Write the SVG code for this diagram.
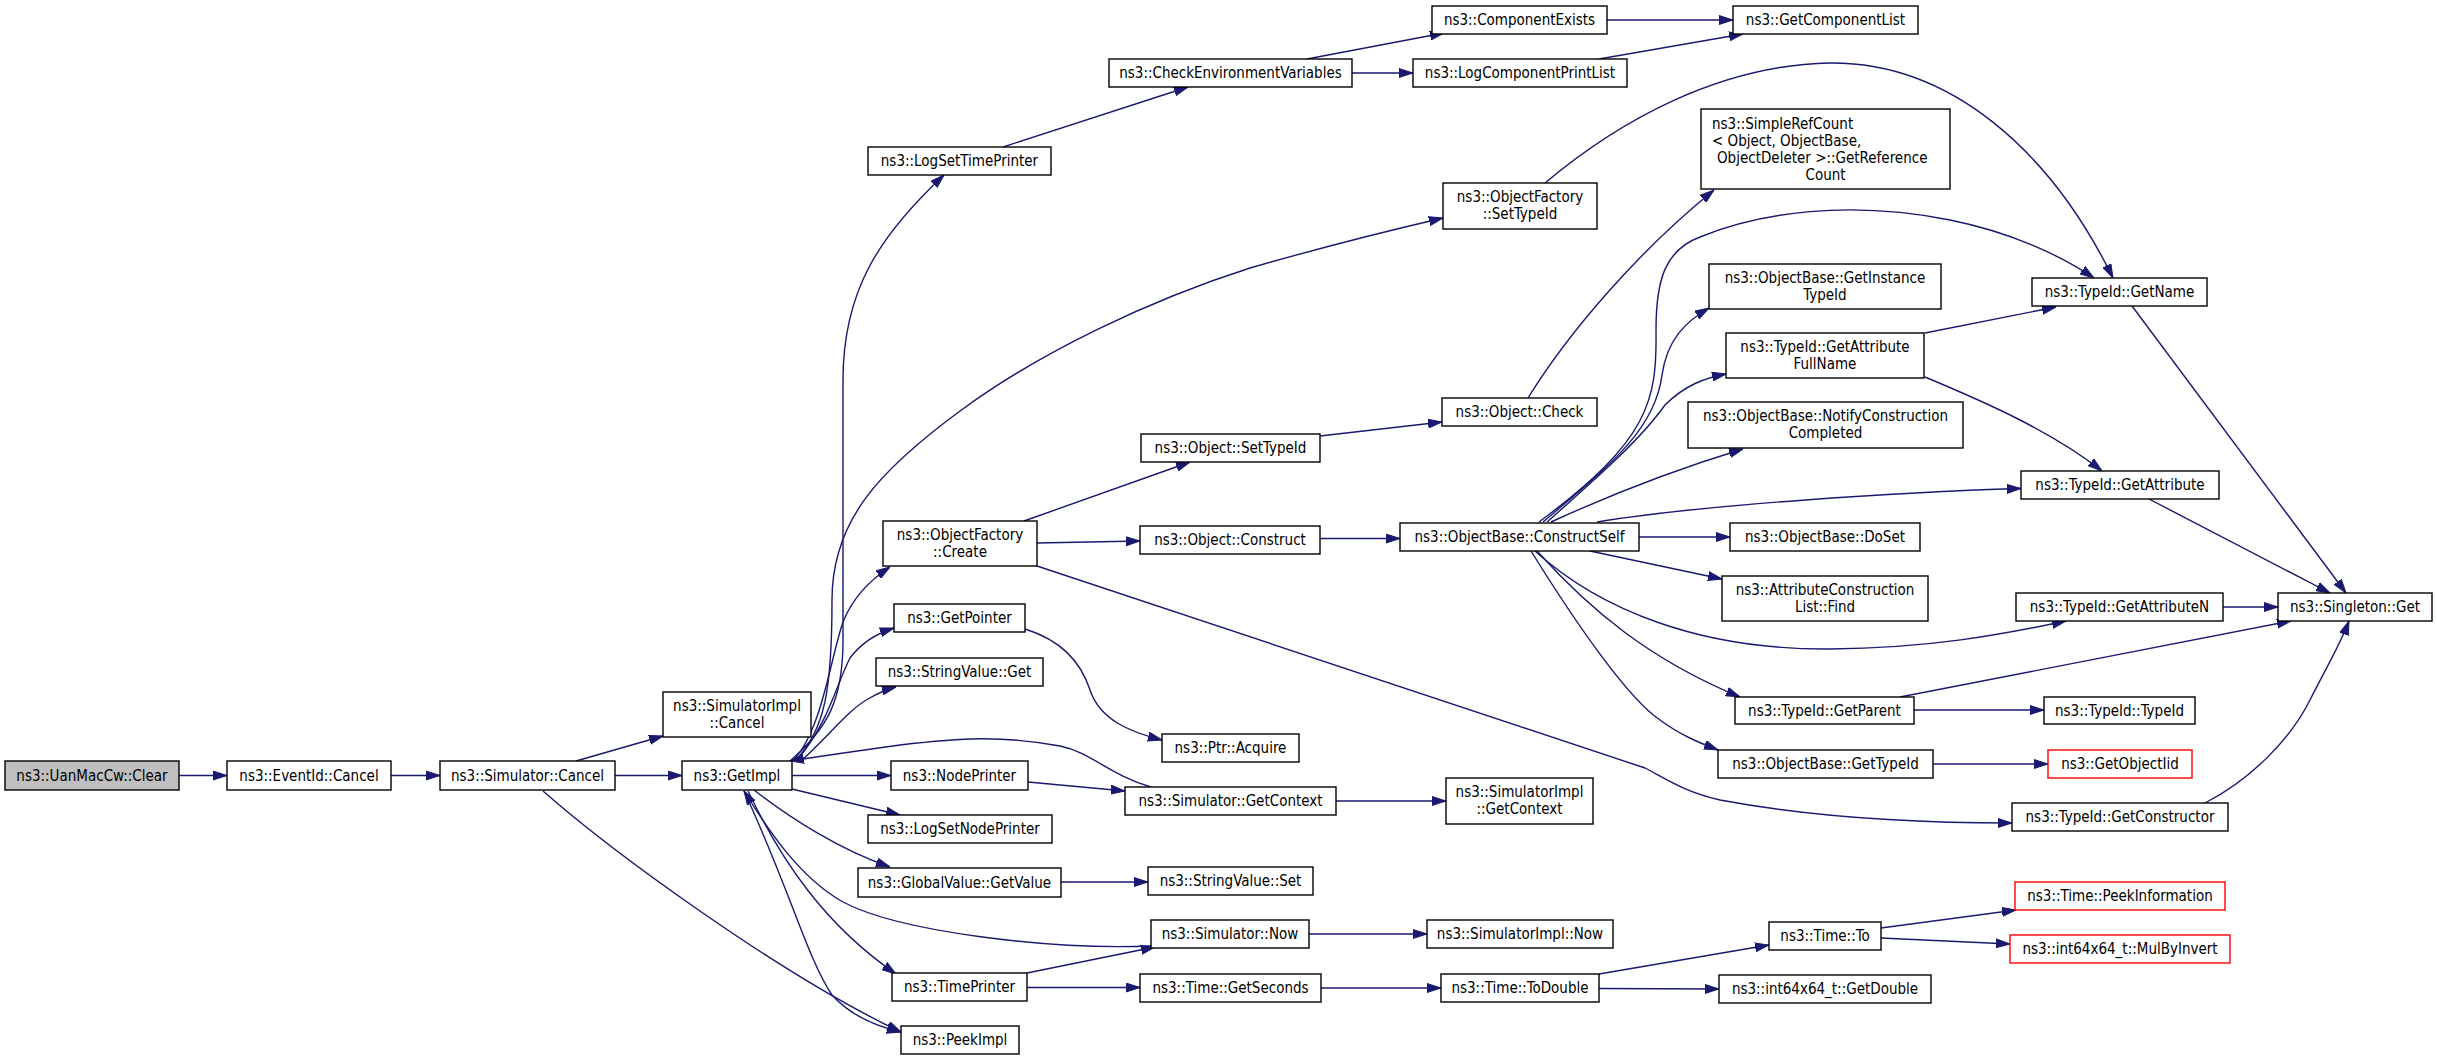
<svg xmlns="http://www.w3.org/2000/svg" width="2437" height="1060" viewBox="0 0 2437 1060">
<style>
.n rect{fill:#fff;stroke:#000;stroke-width:1.4}
.n.g rect{fill:#bfbfbf}
.n.r rect{stroke:#ff0000}
text{font-family:"DejaVu Sans Condensed","DejaVu Sans",sans-serif;font-stretch:condensed;font-size:15px;fill:#000;text-anchor:middle}
text.l{text-anchor:start}
#edges path{fill:none;stroke:#191970;stroke-width:1.4;marker-end:url(#a)}
</style>
<defs>
<marker id="a" markerWidth="14" markerHeight="10" refX="14" refY="5" orient="auto" markerUnits="userSpaceOnUse">
<path d="M0,0.5 L14,5 L0,9.5 z" fill="#191970" stroke="#191970" stroke-width="1"/>
</marker>
</defs>
<rect width="2437" height="1060" fill="#fff"/>
<g id="edges">
<path d="M179,775.5 L227,775.5"/>
<path d="M391,775.5 L440,775.5"/>
<path d="M576,761 L663,736"/>
<path d="M615,775.5 L682,775.5"/>
<path d="M543,791 C610,850 780,975 901,1032"/>
<path d="M790,761 C828,728 843,700 843,640 L843,380 C843,290 880,235 944,175"/>
<path d="M795,761 C825,730 832,690 832,600 C832,520 880,470 960,411 C1040,352 1150,300 1250,268 C1330,245 1400,228 1443,218"/>
<path d="M793,761 C822,730 830,660 843,622 C853,597 870,580 890,567"/>
<path d="M796,761 C828,725 836,685 850,658 C862,642 878,633 894,628"/>
<path d="M800,762 C830,735 848,710 868,699 C880,692 888,689 896,687"/>
<path d="M792,775.5 L891,775.5"/>
<path d="M792,789 L900,815"/>
<path d="M754,790 C790,818 840,850 890,867"/>
<path d="M748,791 C782,862 825,925 896,974"/>
<path d="M744,791 C790,890 808,960 832,995 C850,1015 875,1026 901,1032"/>
<path d="M1151,946 C1050,950 900,932 843,902 C800,878 768,830 744,791"/>
<path d="M1151,787 C1110,775 1090,752 1060,746 C1000,735 960,738 900,745 C850,752 815,757 790,761"/>
<path d="M1028,782 L1125,791"/>
<path d="M1025,629 C1060,640 1080,660 1090,690 C1100,720 1130,732 1162,740"/>
<path d="M1061,882 L1148,882"/>
<path d="M1027,973 L1155,947"/>
<path d="M1027,987.5 L1140,987.5"/>
<path d="M1309,934 L1427,934"/>
<path d="M1336,801 L1446,801"/>
<path d="M1321,988 L1441,988"/>
<path d="M1599,974 L1769,945"/>
<path d="M1599,988.5 L1719,989"/>
<path d="M1881,928 L2016,910"/>
<path d="M1881,938 L2010,944"/>
<path d="M1003,147 L1188,87"/>
<path d="M1307,59 L1444,33"/>
<path d="M1352,73 L1413,73"/>
<path d="M1607,20 L1733,20"/>
<path d="M1599,59 L1743,34"/>
<path d="M1545,183 C1620,120 1720,65 1830,63 C1950,62 2050,150 2113,278"/>
<path d="M1024,521 L1190,462"/>
<path d="M1037,543 L1140,541"/>
<path d="M1037,566 L1645,768 C1668,780 1685,792 1720,800 C1800,815 1900,823 2012,823"/>
<path d="M1320,436 L1442,422"/>
<path d="M1528,398 C1570,330 1640,250 1714,190"/>
<path d="M1320,538.5 L1400,538.5"/>
<path d="M1539,522 C1650,440 1657,400 1656,330 C1656,280 1665,250 1700,237 C1760,212 1850,200 1950,220 C2010,232 2060,255 2094,278"/>
<path d="M1543,522 C1610,465 1655,430 1662,375 C1667,340 1685,322 1709,308"/>
<path d="M1547,522 C1600,475 1640,440 1665,405 C1685,385 1705,378 1726,374"/>
<path d="M1551,522 C1610,495 1680,468 1743,449"/>
<path d="M1597,522 C1700,505 1900,492 2021,488.5"/>
<path d="M1639,537 L1730,537"/>
<path d="M1590,551 L1722,579"/>
<path d="M1535,551 C1600,610 1700,650 1830,649 C1930,648 2000,635 2066,621"/>
<path d="M1537,551 C1590,610 1650,660 1740,697"/>
<path d="M1531,551 C1580,630 1630,700 1660,720 C1680,735 1700,743 1718,750"/>
<path d="M1925,333 L2056,307"/>
<path d="M1925,377 C1980,400 2050,430 2102,471"/>
<path d="M2132,306 L2346,593"/>
<path d="M2149,499 L2330,593"/>
<path d="M2223,607 L2278,607"/>
<path d="M1900,697 L2291,621"/>
<path d="M1914,710 L2044,710"/>
<path d="M1933,764 L2048,764"/>
<path d="M2205,803 C2250,780 2290,740 2310,700 C2325,670 2340,645 2349,621"/>
</g>
<g id="n_clear" class="n g"><rect x="5" y="761" width="174" height="29"/><text x="92" y="780.5">ns3::UanMacCw::Clear</text></g>
<g id="n_evcancel" class="n"><rect x="227" y="761" width="164" height="29"/><text x="309" y="780.5">ns3::EventId::Cancel</text></g>
<g id="n_simcancel" class="n"><rect x="440" y="761" width="175" height="29"/><text x="527.5" y="780.5">ns3::Simulator::Cancel</text></g>
<g id="n_simimplcancel" class="n"><rect x="663" y="692" width="148" height="45"/><text x="737" y="711">ns3::SimulatorImpl</text><text x="737" y="728">::Cancel</text></g>
<g id="n_getimpl" class="n"><rect x="682" y="761" width="110" height="29"/><text x="737" y="780.5">ns3::GetImpl</text></g>
<g id="n_logsettime" class="n"><rect x="868" y="147" width="183" height="28"/><text x="959.5" y="166">ns3::LogSetTimePrinter</text></g>
<g id="n_checkenv" class="n"><rect x="1109" y="59" width="243" height="28"/><text x="1230.5" y="78">ns3::CheckEnvironmentVariables</text></g>
<g id="n_compexists" class="n"><rect x="1432" y="6" width="175" height="28"/><text x="1519.5" y="25">ns3::ComponentExists</text></g>
<g id="n_logcomp" class="n"><rect x="1413" y="59" width="214" height="28"/><text x="1520" y="78">ns3::LogComponentPrintList</text></g>
<g id="n_getcomplist" class="n"><rect x="1733" y="6" width="185" height="28"/><text x="1825.5" y="25">ns3::GetComponentList</text></g>
<g id="n_ofsettypeid" class="n"><rect x="1443" y="183" width="154" height="46"/><text x="1520" y="202">ns3::ObjectFactory</text><text x="1520" y="219">::SetTypeId</text></g>
<g id="n_simplerefcount" class="n"><rect x="1701" y="109" width="249" height="80"/><text class="l" x="1712" y="129">ns3::SimpleRefCount</text><text class="l" x="1712" y="146">&lt; Object, ObjectBase,</text><text class="l" x="1717" y="163">ObjectDeleter &gt;::GetReference</text><text x="1825.5" y="180">Count</text></g>
<g id="n_ofcreate" class="n"><rect x="883" y="521" width="154" height="45"/><text x="960" y="540">ns3::ObjectFactory</text><text x="960" y="557">::Create</text></g>
<g id="n_getpointer" class="n"><rect x="894" y="604" width="131" height="28"/><text x="959.5" y="623">ns3::GetPointer</text></g>
<g id="n_stringget" class="n"><rect x="876" y="658" width="167" height="28"/><text x="959.5" y="677">ns3::StringValue::Get</text></g>
<g id="n_nodeprinter" class="n"><rect x="891" y="761" width="137" height="29"/><text x="959.5" y="780.5">ns3::NodePrinter</text></g>
<g id="n_logsetnode" class="n"><rect x="868" y="815" width="184" height="28"/><text x="960" y="834">ns3::LogSetNodePrinter</text></g>
<g id="n_globalget" class="n"><rect x="858" y="868" width="203" height="29"/><text x="959.5" y="887.5">ns3::GlobalValue::GetValue</text></g>
<g id="n_timeprinter" class="n"><rect x="892" y="973" width="135" height="28"/><text x="959.5" y="992">ns3::TimePrinter</text></g>
<g id="n_peekimpl" class="n"><rect x="901" y="1026" width="118" height="28"/><text x="960" y="1045">ns3::PeekImpl</text></g>
<g id="n_ptracquire" class="n"><rect x="1162" y="734" width="137" height="28"/><text x="1230.5" y="753">ns3::Ptr::Acquire</text></g>
<g id="n_simgetctx" class="n"><rect x="1125" y="787" width="211" height="28"/><text x="1230.5" y="806">ns3::Simulator::GetContext</text></g>
<g id="n_stringset" class="n"><rect x="1148" y="867" width="165" height="28"/><text x="1230.5" y="886">ns3::StringValue::Set</text></g>
<g id="n_simnow" class="n"><rect x="1151" y="920" width="158" height="28"/><text x="1230" y="939">ns3::Simulator::Now</text></g>
<g id="n_getseconds" class="n"><rect x="1140" y="974" width="181" height="28"/><text x="1230.5" y="993">ns3::Time::GetSeconds</text></g>
<g id="n_simimplctx" class="n"><rect x="1446" y="778" width="147" height="46"/><text x="1519.5" y="797">ns3::SimulatorImpl</text><text x="1519.5" y="814">::GetContext</text></g>
<g id="n_simimplnow" class="n"><rect x="1427" y="920" width="186" height="28"/><text x="1520" y="939">ns3::SimulatorImpl::Now</text></g>
<g id="n_todouble" class="n"><rect x="1441" y="974" width="158" height="28"/><text x="1520" y="993">ns3::Time::ToDouble</text></g>
<g id="n_objsettypeid" class="n"><rect x="1141" y="434" width="179" height="28"/><text x="1230.5" y="453">ns3::Object::SetTypeId</text></g>
<g id="n_objconstruct" class="n"><rect x="1140" y="526" width="180" height="28"/><text x="1230" y="545">ns3::Object::Construct</text></g>
<g id="n_objcheck" class="n"><rect x="1442" y="398" width="155" height="28"/><text x="1519.5" y="417">ns3::Object::Check</text></g>
<g id="n_constructself" class="n"><rect x="1400" y="523" width="239" height="28"/><text x="1519.5" y="542">ns3::ObjectBase::ConstructSelf</text></g>
<g id="n_instancetypeid" class="n"><rect x="1709" y="264" width="232" height="45"/><text x="1825" y="283">ns3::ObjectBase::GetInstance</text><text x="1825" y="300">TypeId</text></g>
<g id="n_attrfullname" class="n"><rect x="1726" y="333" width="198" height="45"/><text x="1825" y="352">ns3::TypeId::GetAttribute</text><text x="1825" y="369">FullName</text></g>
<g id="n_notify" class="n"><rect x="1688" y="402" width="275" height="46"/><text x="1825.5" y="421">ns3::ObjectBase::NotifyConstruction</text><text x="1825.5" y="438">Completed</text></g>
<g id="n_doset" class="n"><rect x="1730" y="523" width="190" height="28"/><text x="1825" y="542">ns3::ObjectBase::DoSet</text></g>
<g id="n_acfind" class="n"><rect x="1722" y="576" width="206" height="45"/><text x="1825" y="595">ns3::AttributeConstruction</text><text x="1825" y="612">List::Find</text></g>
<g id="n_getparent" class="n"><rect x="1735" y="697" width="179" height="27"/><text x="1824.5" y="715.5">ns3::TypeId::GetParent</text></g>
<g id="n_obgettypeid" class="n"><rect x="1718" y="750" width="215" height="28"/><text x="1825.5" y="769">ns3::ObjectBase::GetTypeId</text></g>
<g id="n_timeto" class="n"><rect x="1769" y="922" width="112" height="28"/><text x="1825" y="941">ns3::Time::To</text></g>
<g id="n_getdouble" class="n"><rect x="1719" y="975" width="212" height="28"/><text x="1825" y="994">ns3::int64x64_t::GetDouble</text></g>
<g id="n_getname" class="n"><rect x="2032" y="278" width="175" height="28"/><text x="2119.5" y="297">ns3::TypeId::GetName</text></g>
<g id="n_getattribute" class="n"><rect x="2021" y="471" width="198" height="28"/><text x="2120" y="490">ns3::TypeId::GetAttribute</text></g>
<g id="n_getattributen" class="n"><rect x="2016" y="593" width="207" height="28"/><text x="2119.5" y="612">ns3::TypeId::GetAttributeN</text></g>
<g id="n_singleton" class="n"><rect x="2278" y="593" width="154" height="28"/><text x="2355" y="612">ns3::Singleton::Get</text></g>
<g id="n_typeidtypeid" class="n"><rect x="2044" y="697" width="151" height="27"/><text x="2119.5" y="715.5">ns3::TypeId::TypeId</text></g>
<g id="n_getobjectiid" class="n r"><rect x="2048" y="750" width="144" height="28"/><text x="2120" y="769">ns3::GetObjectIid</text></g>
<g id="n_getconstructor" class="n"><rect x="2012" y="803" width="216" height="28"/><text x="2120" y="822">ns3::TypeId::GetConstructor</text></g>
<g id="n_peekinfo" class="n r"><rect x="2015" y="882" width="210" height="28"/><text x="2120" y="901">ns3::Time::PeekInformation</text></g>
<g id="n_mulbyinvert" class="n r"><rect x="2010" y="935" width="220" height="28"/><text x="2120" y="954">ns3::int64x64_t::MulByInvert</text></g>
</svg>
